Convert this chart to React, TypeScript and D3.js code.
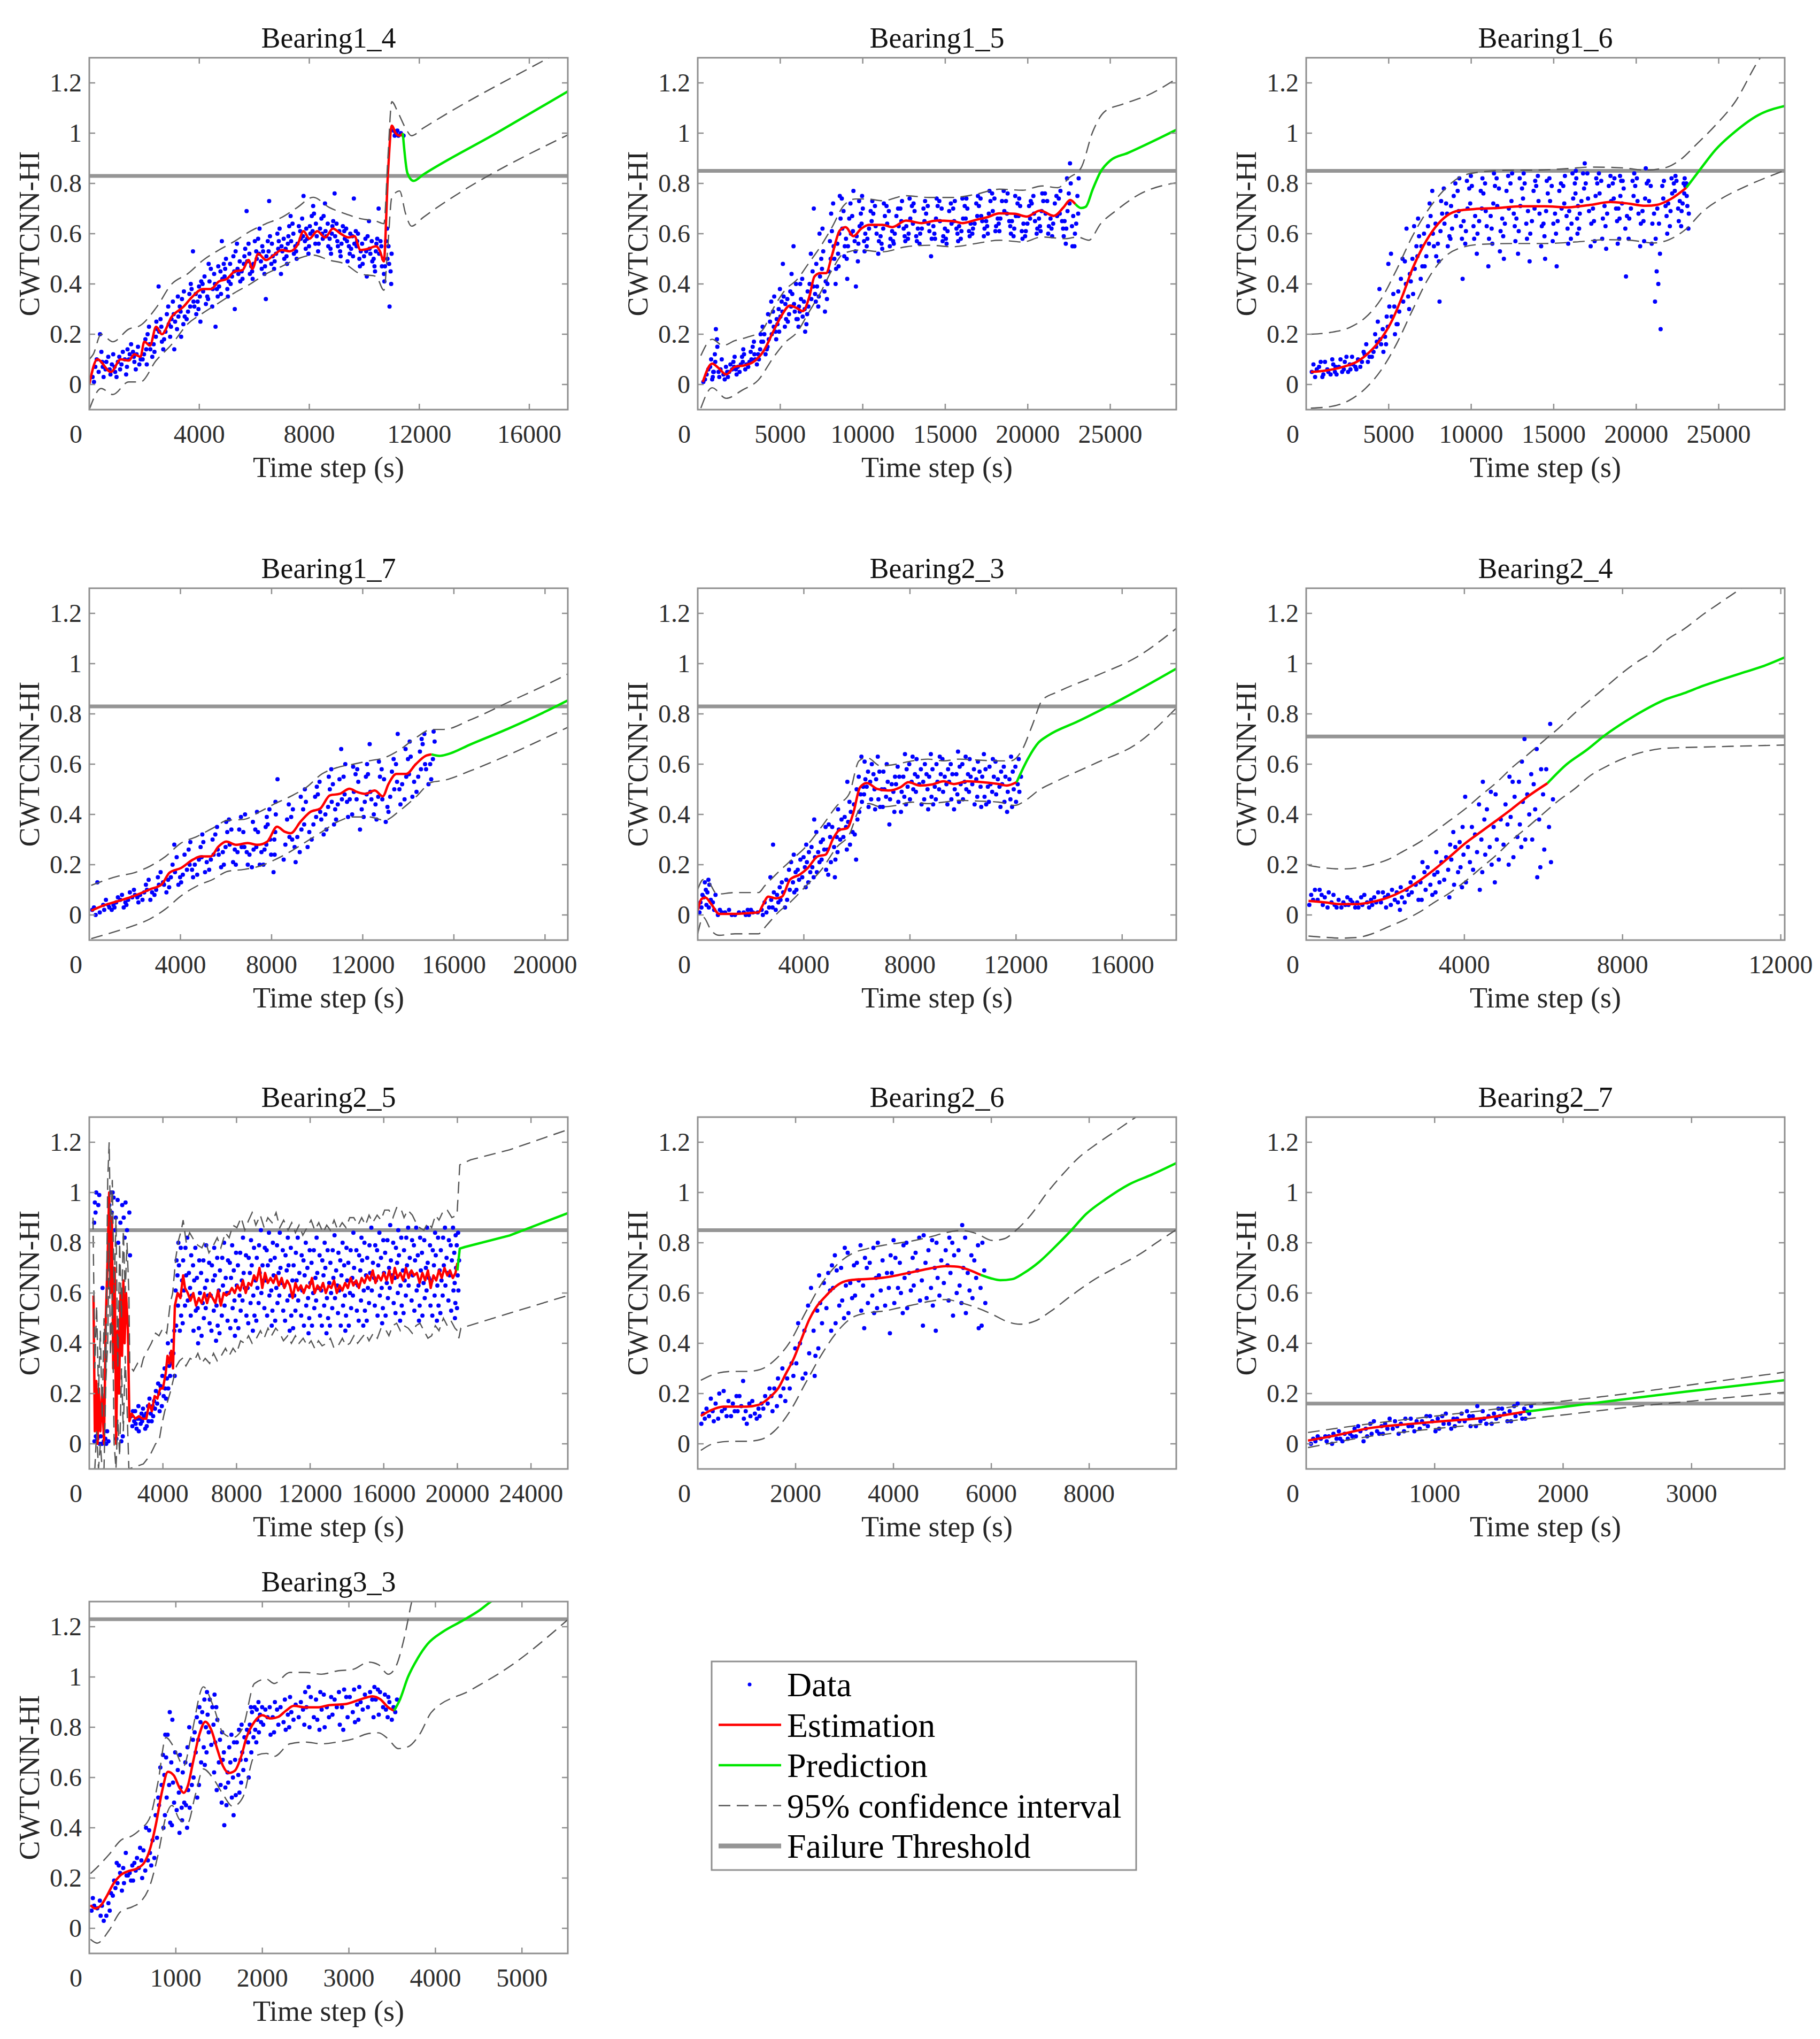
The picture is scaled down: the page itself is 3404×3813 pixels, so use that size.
import React, { useEffect, useRef } from 'react';
import * as d3 from 'd3';

type Pt = [number, number];

const W = 3404;
const H = 3813;
const COL_LEFT = [167, 1305, 2443];
const ROW_TOP = [108, 1100, 2089, 2995];
const PW = 895;
const PH = 658;
const Y_DOMAIN: [number, number] = [-0.1, 1.3];
const Y_TICKS = [0, 0.2, 0.4, 0.6, 0.8, 1, 1.2];
const FONT = "'Liberation Serif', 'Times New Roman', 'DejaVu Serif', serif";
// placement of the readings inside one time bin
const SPREAD = [0.1, 0.6, 0.35, 0.85, 0.2, 0.7, 0.45, 0.95];

const TITLES = ['Bearing1_4', 'Bearing1_5', 'Bearing1_6', 'Bearing1_7', 'Bearing2_3', 'Bearing2_4', 'Bearing2_5', 'Bearing2_6', 'Bearing2_7', 'Bearing3_3'];
const X_MAX = [17400, 29000, 29000, 21000, 18040, 12100, 26000, 9780, 3725, 5530];
const X_TICKS = [
    [4000, 8000, 12000, 16000],
    [5000, 10000, 15000, 20000, 25000],
    [5000, 10000, 15000, 20000, 25000],
    [4000, 8000, 12000, 16000, 20000],
    [4000, 8000, 12000, 16000],
    [4000, 8000, 12000],
    [4000, 8000, 12000, 16000, 20000, 24000],
    [2000, 4000, 6000, 8000],
    [1000, 2000, 3000],
    [1000, 2000, 3000, 4000, 5000],
];
const THRESHOLDS = [0.83, 0.85, 0.85, 0.83, 0.83, 0.71, 0.85, 0.85, 0.16, 1.23];

// ---------- Bearing1_4 ----------
// scatter: [bin start (s), HI readings in percent...]
const b14Pts = [
    [100, 3, 7, 1, 10], [300, 9, 5, 13, 20, 7], [500, 6, 11, 3, 9], [700, 8, 4, 12, 6], [900, 5, 9, 3, 11, 7],
    [1100, 10, 6, 13, 8], [1300, 7, 12, 4, 10, 14], [1500, 9, 13, 6, 16, 11], [1700, 12, 8, 15, 10], [1900, 14, 10, 18, 12, 8],
    [2100, 16, 11, 20, 14, 23], [2300, 19, 13, 22, 16, 25], [2500, 21, 17, 26, 14, 39, 23], [2700, 24, 18, 28, 21, 31], [2900, 23, 28, 19, 33, 26, 14],
    [3100, 27, 22, 31, 25, 35], [3300, 29, 24, 34, 27, 19, 37], [3500, 31, 26, 36, 29, 40], [3700, 33, 28, 38, 31, 53, 36], [3900, 35, 30, 41, 33, 25, 39],
    [4100, 37, 32, 43, 35, 40], [4300, 38, 34, 46, 41, 31, 48], [4500, 40, 35, 44, 38, 23, 47], [4700, 42, 36, 48, 39, 57, 45], [4900, 43, 38, 50, 41, 46, 35],
    [5100, 45, 40, 51, 43, 30, 48], [5300, 46, 41, 53, 44, 56, 49], [5500, 48, 42, 54, 45, 51], [5700, 49, 44, 56, 47, 69, 52], [5900, 50, 45, 57, 48, 53, 42],
    [6100, 52, 46, 58, 49, 62, 55], [6300, 51, 47, 57, 53, 34, 44], [6500, 53, 48, 59, 51, 73, 56], [6700, 54, 49, 60, 52, 57, 46], [6900, 55, 50, 62, 53, 44, 58],
    [7100, 56, 51, 63, 54, 59, 48], [7300, 57, 52, 64, 55, 67, 60], [7500, 58, 53, 63, 56, 61, 50], [7700, 59, 54, 66, 57, 75, 62], [7900, 60, 55, 67, 58, 63, 52],
    [8100, 61, 56, 68, 59, 71, 64], [8300, 60, 56, 66, 62, 58, 53], [8500, 61, 55, 67, 59, 72, 64], [8700, 60, 54, 65, 58, 63, 52], [8900, 59, 55, 64, 61, 76, 57],
    [9100, 58, 53, 63, 56, 61, 51], [9300, 57, 52, 62, 55, 49, 60], [9500, 56, 51, 61, 54, 74, 59], [9700, 55, 50, 60, 53, 57, 47], [9900, 53, 48, 58, 51, 43, 56],
    [10100, 54, 49, 59, 52, 65, 57], [10300, 53, 47, 58, 50, 56, 45], [10500, 52, 47, 57, 50, 70, 55], [10700, 50, 44, 57, 47, 62, 41], [10850, 48, 40, 55, 45, 31, 52],
    [11000, 99, 101, 100], [11150, 100, 99, 101], [11300, 99, 100],
];
const b14Est: Pt[] = [
    [0, 0.0], [290, 0.10], [790, 0.05], [1140, 0.10], [1430, 0.095], [1640, 0.12], [1860, 0.11], [2000, 0.17], [2210, 0.155],
    [2430, 0.23], [2640, 0.2], [3000, 0.27], [3430, 0.31], [3710, 0.345], [4140, 0.38], [4430, 0.38], [4710, 0.41], [5000, 0.42],
    [5290, 0.45], [5570, 0.455], [5790, 0.495], [5930, 0.46], [6140, 0.52], [6430, 0.495], [6710, 0.515], [7000, 0.535], [7290, 0.53],
    [7570, 0.555], [7790, 0.61], [8000, 0.58], [8290, 0.61], [8570, 0.585], [8860, 0.62], [9140, 0.6], [9430, 0.585], [9640, 0.59],
    [9860, 0.535], [10140, 0.54], [10430, 0.55], [10570, 0.53], [10710, 0.49], [10860, 0.84], [11000, 1.03], [11140, 1.0], [11290, 0.99], [11400, 1.0],
];
const b14Pred: Pt[] = [[11400, 1.0], [11570, 0.84], [11790, 0.81], [12140, 0.835], [14800, 1.0], [17400, 1.166]];
const b14Up: Pt[] = [
    [0, 0.1], [143, 0.12], [429, 0.2], [857, 0.17], [1429, 0.22], [1857, 0.235], [2429, 0.305], [3000, 0.4], [3571, 0.44], [4143, 0.495],
    [4714, 0.535], [5286, 0.57], [5857, 0.61], [6429, 0.64], [7000, 0.665], [7571, 0.705], [8143, 0.745], [8714, 0.705], [9286, 0.68],
    [9857, 0.66], [10429, 0.65], [10714, 0.64], [10857, 0.9], [11000, 1.125], [11214, 1.085], [11500, 1.02], [11714, 0.99], [12143, 1.02], [16714, 1.3], [17400, 1.34],
];
const b14Lo: Pt[] = [
    [0, -0.1], [429, -0.016], [857, -0.04], [1429, 0.01], [1857, 0.01], [2429, 0.095], [3000, 0.16], [3571, 0.24], [4143, 0.285],
    [4714, 0.325], [5286, 0.365], [5857, 0.4], [6429, 0.44], [7000, 0.47], [7571, 0.5], [8143, 0.515], [8714, 0.495], [9286, 0.48],
    [9857, 0.44], [10429, 0.43], [10714, 0.375], [10857, 0.55], [11000, 0.745], [11286, 0.77], [11500, 0.68], [11714, 0.63], [12143, 0.665], [17400, 0.993],
];

// ---------- Bearing1_5 ----------
const b15Pts = [
    [300, 1, 4, 2, 6], [700, 3, 7, 2, 10, 5], [950, 9, 15, 5, 22, 12, 18], [1200, 6, 3, 10, 5], [1500, 4, 7, 2, 5], [1800, 6, 3, 8, 5],
    [2100, 7, 4, 9, 6, 11], [2400, 8, 5, 11, 7], [2700, 9, 6, 12, 8, 14], [3000, 10, 7, 13, 9], [3300, 12, 8, 15, 10, 17], [3600, 14, 10, 17, 12, 20],
    [3900, 17, 12, 20, 14, 23], [4200, 20, 15, 25, 18, 33, 28], [4500, 23, 18, 29, 21, 35, 26], [4800, 27, 21, 33, 24, 38, 30], [5100, 29, 23, 35, 26, 48, 32],
    [5400, 31, 25, 37, 28, 44, 34], [5700, 32, 26, 36, 29, 55, 40], [6000, 29, 23, 34, 26, 40, 31], [6300, 27, 21, 33, 24, 42, 30], [6600, 34, 28, 40, 31, 52, 37],
    [6900, 39, 33, 45, 36, 70, 48], [7200, 43, 35, 50, 39, 60, 31], [7500, 46, 37, 53, 41, 62, 29], [7800, 50, 40, 57, 45, 68, 34], [8100, 55, 46, 61, 50, 72, 40],
    [8400, 60, 52, 66, 56, 75, 47], [8700, 62, 55, 69, 58, 74, 51], [9000, 60, 50, 66, 55, 72, 42], [9300, 61, 53, 67, 57, 77, 39], [9600, 63, 56, 68, 59, 73, 49],
    [9900, 64, 57, 70, 60, 75, 53], [10200, 65, 58, 69, 62, 73, 55], [10600, 63, 57, 68, 60, 71, 52], [11000, 62, 56, 67, 59, 72, 54], [11400, 64, 58, 69, 61, 71, 55],
    [11800, 63, 57, 67, 60, 70, 56], [12200, 65, 59, 70, 62, 73, 57], [12600, 66, 60, 71, 63, 74, 58], [13000, 64, 59, 69, 62, 72, 57], [13400, 65, 60, 70, 62, 73, 56],
    [13800, 64, 58, 68, 61, 71, 51], [14200, 66, 60, 71, 63, 74, 58], [14600, 65, 59, 70, 62, 73, 57], [15000, 64, 58, 69, 61, 72, 56], [15400, 65, 60, 70, 62, 73, 57],
    [15800, 66, 61, 71, 63, 74, 58], [16200, 66, 61, 70, 64, 74, 59], [16600, 67, 62, 72, 64, 75, 60], [17000, 67, 62, 71, 65, 74, 59], [17400, 68, 63, 73, 65, 77, 60],
    [17800, 69, 63, 74, 66, 76, 61], [18200, 69, 64, 73, 66, 77, 61], [18600, 68, 63, 73, 65, 76, 60], [19000, 67, 62, 72, 65, 75, 59], [19400, 67, 61, 71, 64, 74, 58],
    [19800, 66, 61, 71, 64, 73, 59], [20200, 68, 62, 72, 65, 75, 60], [20600, 69, 63, 73, 66, 76, 61], [21000, 68, 63, 73, 66, 76, 60], [21400, 67, 62, 72, 64, 75, 59],
    [21800, 68, 62, 74, 65, 77, 59], [22200, 69, 62, 76, 65, 82, 56], [22500, 72, 63, 80, 67, 88, 55], [22800, 68, 60, 75, 64, 82, 55],
];
const b15Est: Pt[] = [
    [307, 0.01], [873, 0.083], [1250, 0.066], [1722, 0.04], [2240, 0.07], [2830, 0.076], [3420, 0.092], [4010, 0.135], [4600, 0.214],
    [5070, 0.273], [5590, 0.314], [5970, 0.305], [6370, 0.292], [6770, 0.351], [7075, 0.43], [7430, 0.443], [7780, 0.443], [8140, 0.515],
    [8610, 0.613], [8960, 0.626], [9430, 0.59], [9910, 0.62], [10380, 0.635], [11200, 0.635], [11790, 0.626], [12620, 0.652], [13560, 0.642],
    [14500, 0.652], [15450, 0.65], [16040, 0.642], [16860, 0.655], [17570, 0.666], [18280, 0.681], [19220, 0.679], [19930, 0.668],
    [20750, 0.692], [21580, 0.671], [22170, 0.705], [22570, 0.734], [22880, 0.718],
];
const b15Pred: Pt[] = [[22880, 0.718], [23230, 0.702], [23510, 0.707], [23940, 0.777], [24410, 0.846], [25000, 0.891], [26060, 0.921], [29000, 1.013]];
const b15Up: Pt[] = [
    [190, 0.115], [873, 0.18], [1530, 0.155], [2240, 0.174], [2950, 0.187], [3890, 0.214], [4600, 0.305], [5310, 0.377], [6010, 0.417],
    [6720, 0.482], [7430, 0.548], [8140, 0.626], [8840, 0.711], [9550, 0.738], [10260, 0.738], [11200, 0.731], [12620, 0.751], [14030, 0.744],
    [15450, 0.744], [16860, 0.757], [18280, 0.777], [19690, 0.773], [20870, 0.79], [21820, 0.783], [22520, 0.823], [23230, 0.862],
    [23940, 1.006], [24650, 1.085], [25830, 1.117], [27240, 1.15], [29000, 1.216],
];
const b15Lo: Pt[] = [
    [190, -0.094], [873, -0.013], [1722, -0.055], [2710, -0.022], [3660, 0.017], [4600, 0.109], [5310, 0.168], [6010, 0.207], [6720, 0.286],
    [7430, 0.364], [8140, 0.456], [8840, 0.521], [9790, 0.535], [11200, 0.528], [12620, 0.548], [14030, 0.554], [15450, 0.548], [16860, 0.561],
    [18280, 0.574], [19690, 0.567], [20870, 0.587], [22290, 0.58], [23000, 0.587], [23700, 0.574], [24410, 0.639], [25350, 0.692],
    [26770, 0.757], [29000, 0.803],
];

// ---------- Bearing1_6 ----------
const b16Pts = [
    [300, 5, 3, 8, 6], [700, 4, 7, 3, 9], [1100, 6, 4, 9, 5], [1500, 5, 8, 4, 10, 7], [1900, 7, 5, 10, 6], [2300, 6, 9, 5, 11, 8],
    [2700, 8, 6, 11, 7], [3100, 9, 7, 13, 10], [3500, 12, 9, 16, 11], [3900, 15, 11, 20, 13, 17], [4300, 18, 13, 25, 16, 38, 22],
    [4700, 23, 16, 31, 19, 48, 27], [5100, 27, 20, 36, 24, 52, 31], [5500, 33, 24, 42, 29, 50, 37], [5900, 40, 30, 49, 35, 62, 44],
    [6300, 46, 36, 55, 41, 63, 50], [6700, 51, 42, 59, 47, 66, 55], [7100, 56, 47, 63, 51, 72, 60], [7500, 60, 51, 67, 55, 77, 64],
    [7900, 61, 49, 68, 56, 73, 33], [8300, 64, 55, 72, 59, 78, 68], [8700, 67, 58, 75, 62, 80, 71], [9100, 69, 58, 77, 63, 82, 42],
    [9500, 70, 61, 78, 65, 81, 56], [9900, 72, 63, 79, 67, 83, 58], [10300, 70, 60, 77, 65, 82, 52], [10700, 69, 58, 76, 63, 80, 47],
    [11100, 72, 62, 79, 67, 84, 56], [11500, 71, 61, 78, 66, 82, 53], [11900, 70, 59, 77, 64, 83, 50], [12300, 73, 63, 80, 68, 84, 57],
    [12700, 71, 61, 78, 66, 82, 52], [13100, 74, 64, 80, 69, 84, 58], [13500, 70, 60, 77, 65, 81, 49], [13900, 73, 63, 79, 68, 83, 55],
    [14300, 69, 59, 76, 64, 81, 50], [14700, 73, 64, 79, 68, 82, 57], [15100, 70, 60, 77, 65, 80, 47], [15500, 72, 62, 79, 67, 83, 56],
    [15900, 74, 64, 80, 69, 84, 58], [16300, 76, 66, 82, 71, 85, 60], [16500, 78, 68, 84, 73, 88, 62], [16900, 74, 64, 80, 69, 84, 55],
    [17300, 75, 65, 80, 70, 82, 57], [17700, 76, 66, 81, 71, 84, 58], [18100, 73, 63, 79, 68, 83, 54], [18500, 74, 65, 80, 70, 82, 56],
    [18900, 75, 66, 81, 70, 83, 58], [19100, 72, 62, 78, 67, 81, 43], [19500, 75, 66, 81, 70, 84, 58], [19900, 73, 64, 79, 68, 82, 55],
    [20300, 74, 65, 80, 69, 86, 57], [20700, 73, 64, 79, 68, 81, 56], [21100, 22, 33, 40, 45, 52, 58, 64, 70], [21500, 74, 67, 79, 71, 81, 60],
    [21900, 76, 69, 80, 72, 82, 63], [22300, 77, 70, 81, 73, 83, 65], [22700, 76, 69, 80, 72, 82, 63], [22950, 75, 68, 79, 71, 80, 62],
];
const b16Est: Pt[] = [
    [283, 0.05], [1226, 0.056], [2170, 0.069], [3113, 0.092], [3820, 0.128], [4530, 0.181], [5236, 0.259], [5825, 0.351], [6415, 0.456],
    [7123, 0.554], [7830, 0.626], [8538, 0.672], [9245, 0.692], [10190, 0.698], [11600, 0.702], [13020, 0.709], [14430, 0.709],
    [15850, 0.705], [17260, 0.715], [18440, 0.726], [19390, 0.721], [20570, 0.711], [21270, 0.715], [22100, 0.738], [23040, 0.783],
];
const b16Pred: Pt[] = [[23040, 0.783], [23870, 0.855], [24810, 0.934], [25990, 1.006], [27400, 1.072], [29000, 1.108]];
const b16Up: Pt[] = [
    [283, 0.2], [1462, 0.207], [2640, 0.227], [3585, 0.266], [4530, 0.339], [5472, 0.456], [6415, 0.587], [7360, 0.692], [8300, 0.77],
    [9245, 0.823], [10190, 0.842], [12080, 0.852], [13960, 0.853], [15850, 0.859], [17260, 0.865], [19150, 0.862], [20570, 0.853],
    [21750, 0.862], [22690, 0.895], [23630, 0.954], [24810, 1.032], [25990, 1.124], [27400, 1.288], [28200, 1.36],
];
const b16Lo: Pt[] = [
    [283, -0.094], [1462, -0.088], [2640, -0.062], [3585, -0.016], [4530, 0.056], [5472, 0.161], [6415, 0.292], [7360, 0.417], [8300, 0.502],
    [9245, 0.541], [10660, 0.558], [12550, 0.561], [14430, 0.561], [16320, 0.567], [18210, 0.576], [19620, 0.574], [21040, 0.563],
    [21980, 0.576], [22920, 0.613], [24100, 0.692], [25280, 0.744], [26700, 0.79], [29000, 0.852],
];

// ---------- Bearing1_7 ----------
const b17Pts = [
    [100, 2, 0, 3, 13], [400, 2, 1, 4], [700, 4, 2, 6, 3], [1000, 5, 3, 7, 4], [1300, 6, 3, 8, 5], [1600, 7, 4, 9, 6],
    [1900, 8, 5, 10, 7], [2200, 9, 6, 12, 8], [2500, 10, 6, 14, 9], [2800, 12, 8, 15, 10], [3100, 13, 9, 17, 12], [3400, 15, 11, 20, 14],
    [3700, 17, 12, 23, 15, 28], [4000, 18, 13, 24, 16], [4300, 20, 15, 26, 18, 29], [4600, 22, 16, 27, 20], [4900, 23, 17, 29, 21, 32],
    [5200, 24, 18, 30, 22], [5500, 26, 19, 32, 24, 35], [5800, 27, 20, 33, 25, 37], [6100, 28, 21, 34, 26, 38], [6400, 27, 20, 34, 25, 39],
    [6700, 27, 20, 33, 25, 40], [7000, 26, 19, 34, 24, 37], [7300, 27, 20, 33, 25, 41], [7600, 28, 20, 35, 26, 39], [7800, 30, 17, 36, 24, 42],
    [8100, 33, 24, 40, 30, 45], [8200, 54], [8500, 31, 22, 38, 28, 44], [8800, 30, 21, 39, 27, 42], [9100, 34, 25, 42, 31, 47],
    [9400, 36, 27, 45, 33, 50], [9700, 39, 30, 47, 36, 51], [10000, 41, 32, 48, 38, 53], [10300, 43, 34, 50, 40, 55], [10600, 45, 36, 52, 42, 58],
    [10800, 46, 38, 54, 44, 66], [11100, 48, 39, 55, 45, 60], [11400, 49, 40, 56, 46, 59], [11700, 46, 34, 53, 42, 58], [12000, 48, 39, 55, 45, 60],
    [12200, 49, 40, 56, 46, 68], [12500, 47, 38, 55, 44, 61], [12800, 46, 37, 54, 43, 58], [13100, 50, 41, 57, 47, 62], [13400, 53, 44, 60, 50, 72],
    [13700, 55, 46, 62, 52, 66], [14000, 56, 47, 63, 53, 69], [14300, 58, 49, 65, 55, 70], [14600, 60, 52, 68, 58, 72], [14900, 62, 54, 69, 60, 73],
];
const b17Est: Pt[] = [
    [86, 0.017], [600, 0.037], [1290, 0.056], [1970, 0.076], [2660, 0.102], [3180, 0.122], [3520, 0.168], [4030, 0.187], [4550, 0.22],
    [4890, 0.233], [5320, 0.233], [5670, 0.272], [6010, 0.292], [6440, 0.279], [6950, 0.286], [7380, 0.279], [7810, 0.292], [8240, 0.351],
    [8580, 0.331], [8840, 0.325], [9270, 0.371], [9700, 0.41], [10130, 0.423], [10560, 0.476], [10990, 0.482], [11420, 0.502], [11760, 0.489],
    [12100, 0.482], [12530, 0.495], [12880, 0.472], [13130, 0.521], [13480, 0.561], [13910, 0.561], [14330, 0.6], [14760, 0.633], [15020, 0.639],
];
const b17Pred: Pt[] = [[15020, 0.639], [15360, 0.633], [15710, 0.639], [16740, 0.679], [18450, 0.744], [20170, 0.816], [21030, 0.855]];
const b17Up: Pt[] = [
    [86, 0.118], [1290, 0.155], [1970, 0.168], [2660, 0.194], [3350, 0.233], [4030, 0.286], [4720, 0.312], [5410, 0.345], [6090, 0.377],
    [6780, 0.38], [7470, 0.41], [8150, 0.443], [8840, 0.472], [9530, 0.508], [10210, 0.561], [10900, 0.587], [11590, 0.6], [12270, 0.613],
    [12960, 0.626], [13650, 0.659], [14330, 0.705], [15020, 0.738], [15540, 0.738], [16740, 0.777], [18450, 0.849], [20170, 0.921], [21030, 0.96],
];
const b17Lo: Pt[] = [
    [86, -0.094], [1290, -0.062], [1970, -0.042], [2660, -0.016], [3350, 0.024], [4030, 0.076], [4720, 0.115], [5410, 0.141], [6090, 0.174],
    [6780, 0.181], [7470, 0.194], [8150, 0.22], [8840, 0.253], [9530, 0.292], [10210, 0.331], [10900, 0.371], [11590, 0.39], [12270, 0.39],
    [12960, 0.377], [13650, 0.417], [14330, 0.469], [15020, 0.528], [15540, 0.535], [16740, 0.574], [18450, 0.639], [20170, 0.711], [21030, 0.748],
];

// ---------- Bearing2_3 ----------
const b23Pts = [
    [50, 1, 3, 5, 8], [200, 4, 7, 10, 13], [350, 3, 6, 9, 12, 14], [500, 2, 5, 8], [700, 0, 1, 2], [1000, 0, 1, 2], [1300, 0, 1],
    [1600, 0, 1, 2], [1900, 0, 1, 2], [2200, 0, 1, 2], [2500, 1, 3, 5], [2700, 3, 6, 9, 15, 28], [2900, 2, 5, 8, 11], [3100, 3, 6, 9, 13],
    [3300, 6, 10, 14, 18], [3500, 9, 13, 17, 21, 24], [3700, 10, 14, 18, 22], [3900, 11, 15, 19, 23, 28], [4100, 13, 17, 21, 25],
    [4250, 15, 19, 23, 27, 38], [4450, 17, 21, 25, 29, 33], [4650, 18, 22, 26, 30, 35], [4850, 16, 21, 26, 31, 36], [5050, 22, 27, 31, 35, 15],
    [5250, 25, 30, 34, 38, 42], [5450, 26, 31, 35, 39, 53], [5650, 28, 33, 37, 41, 45], [5850, 22, 32, 38, 44, 50],
    [6050, 41, 45, 48, 51, 55, 63], [6250, 43, 48, 51, 54, 57, 61], [6450, 46, 50, 53, 56, 60, 42], [6700, 43, 46, 50, 54, 57, 63],
    [6950, 43, 47, 50, 53, 57, 60], [7200, 41, 46, 49, 52, 55, 36], [7450, 45, 49, 52, 55, 59, 41], [7700, 44, 47, 51, 55, 58, 64],
    [7950, 46, 50, 53, 56, 60, 63], [8200, 44, 49, 52, 55, 58, 62], [8450, 46, 50, 53, 56, 60, 42], [8700, 44, 47, 51, 55, 58, 64],
    [8950, 46, 50, 53, 56, 60, 63], [9200, 44, 49, 52, 55, 58, 62], [9450, 46, 50, 53, 56, 60, 42], [9700, 45, 48, 52, 56, 59, 65],
    [9950, 46, 50, 53, 56, 60, 63], [10200, 44, 49, 52, 55, 58, 62], [10450, 47, 51, 54, 57, 61, 43], [10700, 44, 47, 51, 55, 58, 64],
    [10950, 45, 49, 52, 55, 59, 62], [11200, 43, 48, 51, 54, 57, 61], [11450, 45, 49, 52, 55, 59, 41], [11700, 43, 46, 50, 54, 57, 63],
    [11950, 45, 49, 52, 55, 59, 62],
];
const b23Est: Pt[] = [
    [0, 0.017], [140, 0.063], [290, 0.069], [510, 0.043], [810, 0.004], [1250, 0.004], [1850, 0.007], [2290, 0.01], [2440, 0.037],
    [2660, 0.073], [2960, 0.066], [3180, 0.073], [3480, 0.141], [3850, 0.161], [4150, 0.187], [4520, 0.233], [4820, 0.24], [5110, 0.305],
    [5340, 0.338], [5630, 0.345], [5860, 0.404], [6120, 0.508], [6380, 0.525], [6750, 0.502], [7190, 0.495], [7640, 0.508], [7940, 0.528],
    [8380, 0.515], [8830, 0.519], [9270, 0.532], [9650, 0.521], [10170, 0.532], [10760, 0.528], [11350, 0.521], [11650, 0.515], [12020, 0.528],
];
const b23Pred: Pt[] = [[12020, 0.528], [12470, 0.626], [12840, 0.685], [13210, 0.714], [14330, 0.77], [15810, 0.849], [18040, 0.98]];
const b23Up: Pt[] = [
    [0, 0.102], [210, 0.141], [430, 0.128], [730, 0.083], [1400, 0.089], [2290, 0.089], [2520, 0.115], [2890, 0.155], [3480, 0.214],
    [4080, 0.272], [4670, 0.351], [5260, 0.436], [5710, 0.482], [6080, 0.613], [6380, 0.626], [6900, 0.593], [7490, 0.6], [8090, 0.613],
    [8680, 0.62], [9270, 0.613], [9860, 0.62], [10610, 0.616], [11350, 0.613], [11800, 0.613], [12240, 0.659], [12620, 0.757], [12990, 0.855],
    [13580, 0.888], [15070, 0.954], [16550, 1.026], [18040, 1.14],
];
const b23Lo: Pt[] = [
    [0, -0.075], [210, -0.009], [510, -0.062], [810, -0.081], [1400, -0.075], [2290, -0.075], [2590, -0.042], [3030, 0.01], [3480, 0.05],
    [4080, 0.115], [4670, 0.181], [5260, 0.272], [5710, 0.319], [6080, 0.417], [6450, 0.443], [6900, 0.43], [7490, 0.436], [8090, 0.449],
    [8680, 0.443], [9270, 0.449], [9860, 0.456], [10610, 0.453], [11350, 0.449], [11950, 0.436], [12400, 0.459], [12840, 0.495],
    [13580, 0.535], [15070, 0.607], [16550, 0.681], [18040, 0.823],
];

// ---------- Bearing2_4 ----------
const b24Pts = [
    [60, 4, 6, 8, 10], [250, 4, 6, 8, 10], [450, 3, 5, 7, 9], [650, 3, 4, 6, 8], [850, 3, 4, 5, 7], [1050, 3, 4, 5, 6], [1250, 3, 4, 5, 7],
    [1450, 3, 5, 6, 8], [1650, 4, 5, 7, 9], [1850, 3, 5, 7, 9], [2050, 4, 6, 8, 10], [2250, 2, 5, 7, 9, 11], [2450, 5, 8, 10, 13],
    [2650, 6, 9, 12, 15], [2850, 6, 10, 13, 17, 21], [3050, 8, 12, 16, 19], [3250, 9, 13, 17, 21, 25], [3450, 7, 14, 18, 23, 28],
    [3650, 12, 17, 22, 27, 33], [3850, 11, 19, 24, 29, 35], [4000, 13, 21, 27, 35, 47], [4200, 10, 18, 25, 32, 44], [4400, 17, 24, 30, 38, 53],
    [4550, 20, 27, 35, 42, 49], [4750, 13, 22, 30, 38, 48], [4950, 20, 28, 36, 44, 55], [5150, 23, 31, 39, 47, 53], [5350, 27, 36, 45, 53, 61],
    [5500, 30, 40, 48, 56, 70], [5700, 15, 30, 42, 52, 66], [5850, 19, 26, 38, 48, 58], [6050, 21, 35, 46, 58, 76],
];
const b24Est: Pt[] = [
    [59, 0.056], [483, 0.05], [877, 0.043], [1271, 0.043], [1665, 0.052], [2060, 0.069], [2450, 0.096], [2850, 0.135], [3240, 0.181],
    [3640, 0.233], [4030, 0.286], [4420, 0.331], [4820, 0.377], [5210, 0.423], [5610, 0.472], [6100, 0.524],
];
const b24Pred: Pt[] = [
    [6100, 0.524], [6590, 0.6], [7080, 0.655], [7580, 0.718], [8070, 0.77], [8560, 0.816], [9050, 0.855], [9550, 0.882], [10040, 0.912],
    [10530, 0.938], [11020, 0.963], [11520, 0.988], [12100, 1.025],
];
const b24Up: Pt[] = [
    [59, 0.197], [483, 0.187], [877, 0.183], [1271, 0.187], [1665, 0.2], [2060, 0.22], [2450, 0.253], [2850, 0.288], [3240, 0.331],
    [3640, 0.377], [4030, 0.423], [4420, 0.476], [4820, 0.528], [5210, 0.587], [5610, 0.639], [6000, 0.692], [6390, 0.744], [6790, 0.803],
    [7180, 0.855], [7580, 0.908], [7970, 0.96], [8360, 1.006], [8760, 1.045], [9150, 1.098], [9550, 1.137], [10040, 1.196], [10530, 1.249], [10980, 1.297], [11500, 1.35],
];
const b24Lo: Pt[] = [
    [59, -0.084], [483, -0.089], [877, -0.092], [1271, -0.09], [1665, -0.075], [2060, -0.048], [2450, -0.022], [2850, 0.01], [3240, 0.05],
    [3640, 0.089], [4030, 0.135], [4420, 0.187], [4820, 0.24], [5210, 0.299], [5610, 0.351], [6000, 0.404], [6390, 0.456], [6790, 0.502],
    [7180, 0.554], [7580, 0.59], [8070, 0.626], [8560, 0.65], [9050, 0.663], [10040, 0.668], [11020, 0.672], [12100, 0.676],
];

// ---------- Bearing2_5 ----------
const b25Pts = [
    [250, 88, 92, 96, 100, 1, 3], [400, 0, 2, 99, 95], [600, 0, 1, 3, 62], [800, 0, 2, 5], [1000, 1, 90, 95, 100], [1200, 85, 92, 98, 100],
    [1400, 2, 80, 90, 97], [1600, 1, 88, 95], [1800, 3, 82, 90, 96], [2000, 75, 85, 92], [2250, 7, 9, 11, 13], [2450, 6, 8, 10, 13],
    [2650, 5, 8, 10, 12, 15], [2850, 6, 9, 11, 14], [3050, 7, 9, 12, 15], [3250, 9, 12, 15, 18], [3450, 11, 14, 17, 21], [3650, 13, 16, 20, 24],
    [3850, 15, 19, 23, 27], [4050, 18, 22, 26, 30], [4250, 22, 27, 31, 36, 40], [4450, 27, 32, 36, 41, 45],
    [4650, 47, 55, 61, 67, 73, 80], [4850, 51, 59, 65, 71, 78, 45], [5050, 48, 55, 61, 67, 73, 78], [5300, 51, 57, 62, 68, 75, 82],
    [5550, 45, 53, 59, 65, 71, 78], [5800, 46, 54, 60, 66, 73, 40], [6050, 43, 50, 56, 62, 68, 73], [6300, 48, 54, 59, 65, 72, 79],
    [6550, 45, 53, 59, 65, 71, 78], [6800, 47, 55, 61, 67, 74, 41], [7050, 44, 51, 57, 63, 69, 74], [7300, 49, 55, 60, 66, 73, 80],
    [7550, 46, 54, 60, 66, 72, 79], [7800, 49, 57, 63, 69, 76, 43], [8050, 46, 53, 59, 65, 71, 76], [8300, 51, 57, 62, 68, 75, 82],
    [8550, 48, 56, 62, 68, 74, 81], [8800, 51, 59, 65, 71, 78, 45], [9050, 49, 56, 62, 68, 74, 79], [9300, 54, 60, 65, 71, 78, 85],
    [9550, 51, 59, 65, 71, 77, 84], [9800, 53, 61, 67, 73, 80, 47], [10050, 49, 56, 62, 68, 74, 79], [10300, 53, 59, 64, 70, 77, 84],
    [10550, 49, 57, 63, 69, 75, 82], [10800, 51, 59, 65, 71, 78, 45], [11050, 46, 53, 59, 65, 71, 76], [11300, 51, 57, 62, 68, 75, 82],
    [11550, 47, 55, 61, 67, 73, 80], [11800, 50, 58, 64, 70, 77, 44], [12050, 47, 54, 60, 66, 72, 77], [12300, 51, 57, 62, 68, 75, 82],
    [12550, 47, 55, 61, 67, 73, 80], [12800, 50, 58, 64, 70, 77, 44], [13050, 47, 54, 60, 66, 72, 77], [13300, 52, 58, 63, 69, 76, 83],
    [13550, 47, 55, 61, 67, 73, 80], [13800, 51, 59, 65, 71, 78, 45], [14050, 47, 54, 60, 66, 72, 77], [14300, 53, 59, 64, 70, 77, 84],
    [14550, 49, 57, 63, 69, 75, 82], [14800, 53, 61, 67, 73, 80, 47], [15050, 49, 56, 62, 68, 74, 79], [15300, 55, 61, 66, 72, 79, 86],
    [15550, 51, 59, 65, 71, 77, 84], [15800, 54, 62, 68, 74, 81, 48], [16050, 51, 58, 64, 70, 76, 81], [16300, 56, 62, 67, 73, 80, 87],
    [16550, 52, 60, 66, 72, 78, 85], [16800, 55, 63, 69, 75, 82, 49], [17050, 52, 59, 65, 71, 77, 82], [17300, 57, 63, 68, 74, 81, 86],
    [17550, 53, 61, 67, 73, 79, 86], [17800, 55, 63, 69, 75, 82, 49], [18050, 51, 58, 64, 70, 76, 81], [18300, 55, 61, 66, 72, 79, 86],
    [18550, 51, 59, 65, 71, 77, 84], [18800, 55, 63, 69, 75, 82, 49], [19050, 52, 59, 65, 71, 77, 82], [19300, 57, 63, 68, 74, 81, 86],
    [19550, 53, 61, 67, 73, 79, 86], [19800, 56, 64, 70, 76, 83, 50], [19950, 54, 61, 67, 73, 79, 84],
];
const b25Est: Pt[] = [
    [230, 0.59], [300, 0.05], [380, 0.25], [450, 0.0], [520, 0.22], [600, 0.05], [700, 0.2], [800, 0.0], [900, 0.5], [1000, 0.75], [1080, 1.0],
    [1150, 0.6], [1230, 0.9], [1300, 0.3], [1380, 0.7], [1460, 0.0], [1540, 0.45], [1620, 0.2], [1700, 0.6], [1780, 0.35], [1850, 0.65],
    [1920, 0.4], [2000, 0.6], [2100, 0.45], [2180, 0.09], [2300, 0.12], [2500, 0.1], [2700, 0.11], [2900, 0.1], [3100, 0.1], [3250, 0.16],
    [3400, 0.13], [3550, 0.19], [3700, 0.18], [3850, 0.22], [4000, 0.22], [4150, 0.28], [4250, 0.35], [4350, 0.32], [4450, 0.37], [4550, 0.3],
    [4650, 0.55], [4800, 0.6], [4950, 0.58], [5100, 0.67], [5200, 0.62], [5350, 0.6], [5500, 0.57], [5650, 0.6], [5800, 0.55], [5950, 0.58],
    [6100, 0.56], [6250, 0.6], [6400, 0.56], [6550, 0.6], [6700, 0.58], [6850, 0.56], [7000, 0.61], [7150, 0.55], [7300, 0.6], [7450, 0.59],
    [7600, 0.6], [7750, 0.62], [7900, 0.6], [8050, 0.63], [8200, 0.61], [8350, 0.65], [8500, 0.6], [8650, 0.64], [8800, 0.63], [8950, 0.67],
    [9100, 0.65], [9250, 0.7], [9400, 0.62], [9550, 0.68], [9700, 0.64], [9850, 0.66], [10000, 0.64], [10150, 0.67], [10300, 0.63],
    [10450, 0.66], [10600, 0.62], [10750, 0.65], [10900, 0.63], [11050, 0.58], [11200, 0.64], [11350, 0.61], [11500, 0.63], [11650, 0.6],
    [11800, 0.63], [11950, 0.62], [12100, 0.66], [12250, 0.6], [12400, 0.63], [12550, 0.61], [12700, 0.64], [12850, 0.6], [13000, 0.63],
    [13150, 0.62], [13300, 0.65], [13450, 0.6], [13600, 0.63], [13750, 0.61], [13900, 0.64], [14050, 0.62], [14200, 0.66], [14350, 0.63],
    [14500, 0.65], [14650, 0.62], [14800, 0.66], [14950, 0.64], [15100, 0.67], [15250, 0.65], [15400, 0.69], [15550, 0.64], [15700, 0.67],
    [15850, 0.65], [16000, 0.68], [16150, 0.65], [16300, 0.69], [16450, 0.64], [16600, 0.7], [16750, 0.66], [16900, 0.68], [17050, 0.65],
    [17200, 0.7], [17350, 0.66], [17500, 0.69], [17650, 0.67], [17800, 0.68], [17950, 0.64], [18100, 0.68], [18250, 0.65], [18400, 0.69],
    [18550, 0.62], [18700, 0.67], [18850, 0.65], [19000, 0.69], [19150, 0.66], [19300, 0.7], [19450, 0.67], [19600, 0.69], [19750, 0.66],
    [19900, 0.68], [20000, 0.72],
];
const b25Pred: Pt[] = [[20000, 0.69], [20130, 0.777], [20400, 0.783], [22840, 0.829], [26000, 0.918]];
const b25Up: Pt[] = [
    [200, 0.9], [300, 0.3], [400, 0.55], [500, 0.2], [600, 0.45], [700, 0.1], [800, 0.5], [900, 0.3], [1000, 1.05], [1080, 1.2], [1150, 0.85],
    [1250, 1.05], [1350, 0.6], [1450, 0.9], [1550, 0.3], [1650, 0.8], [1750, 0.5], [1850, 0.85], [1950, 0.6], [2050, 0.8], [2150, 0.6],
    [2200, 0.31], [2400, 0.29], [2620, 0.32], [2800, 0.3], [2940, 0.34], [3150, 0.37], [3370, 0.4], [3600, 0.44], [3790, 0.43], [4000, 0.46],
    [4210, 0.44], [4400, 0.56], [4530, 0.6], [4700, 0.74], [4850, 0.81], [5000, 0.85], [5100, 0.89], [5270, 0.8], [5450, 0.84], [5690, 0.81],
    [5900, 0.79], [6120, 0.78], [6300, 0.81], [6500, 0.76], [6750, 0.79], [6950, 0.82], [7150, 0.78], [7390, 0.84], [7600, 0.82], [7800, 0.87],
    [8020, 0.86], [8250, 0.9], [8450, 0.85], [8660, 0.89], [8850, 0.92], [9050, 0.87], [9290, 0.91], [9500, 0.86], [9700, 0.9], [9930, 0.88],
    [10150, 0.92], [10350, 0.86], [10560, 0.89], [10800, 0.85], [11000, 0.88], [11200, 0.84], [11400, 0.87], [11600, 0.83], [11830, 0.86],
    [12050, 0.89], [12250, 0.85], [12470, 0.88], [12700, 0.84], [12900, 0.87], [13100, 0.85], [13300, 0.89], [13500, 0.85], [13740, 0.88],
    [13950, 0.86], [14150, 0.9], [14370, 0.9], [14600, 0.87], [14800, 0.9], [15010, 0.87], [15200, 0.91], [15400, 0.88], [15640, 0.91],
    [15850, 0.89], [16050, 0.93], [16280, 0.93], [16500, 0.9], [16700, 0.94], [16910, 0.94], [17100, 0.9], [17300, 0.93], [17550, 0.91],
    [17750, 0.88], [17950, 0.86], [18180, 0.85], [18400, 0.88], [18600, 0.86], [18810, 0.91], [19000, 0.89], [19250, 0.93], [19450, 0.93],
    [19700, 0.9], [19980, 0.91], [20130, 1.11], [20720, 1.13], [22840, 1.17], [26000, 1.25],
];
const b25Lo: Pt[] = [
    [200, -0.1], [300, -0.1], [400, 0.05], [500, -0.1], [600, 0.0], [700, -0.1], [800, -0.1], [900, 0.25], [1000, 0.4], [1080, 0.8],
    [1150, 0.35], [1250, 0.6], [1350, 0.0], [1450, -0.1], [1550, 0.1], [1650, -0.05], [1750, 0.3], [1850, 0.05], [1950, 0.35], [2050, 0.15],
    [2150, -0.1], [2940, -0.08], [3150, -0.06], [3370, -0.035], [3600, 0.0], [3790, 0.01], [3950, 0.08], [4100, 0.13], [4260, 0.17],
    [4420, 0.21], [4580, 0.26], [4740, 0.31], [4900, 0.33], [5060, 0.34], [5250, 0.31], [5480, 0.34], [5700, 0.33], [5900, 0.36], [6100, 0.32],
    [6300, 0.34], [6540, 0.32], [6750, 0.36], [6950, 0.33], [7170, 0.35], [7400, 0.38], [7600, 0.35], [7810, 0.38], [8000, 0.36], [8220, 0.41],
    [8440, 0.4], [8650, 0.43], [8850, 0.4], [9080, 0.42], [9300, 0.45], [9500, 0.42], [9710, 0.46], [9900, 0.43], [10130, 0.46], [10350, 0.44],
    [10550, 0.41], [10780, 0.43], [10980, 0.4], [11200, 0.43], [11400, 0.4], [11620, 0.42], [11850, 0.39], [12050, 0.41], [12250, 0.38],
    [12450, 0.41], [12650, 0.39], [12890, 0.4], [13100, 0.42], [13300, 0.38], [13520, 0.39], [13750, 0.42], [13950, 0.39], [14160, 0.4],
    [14380, 0.43], [14580, 0.4], [14790, 0.42], [15000, 0.44], [15200, 0.41], [15430, 0.44], [15650, 0.42], [15850, 0.46], [16060, 0.46],
    [16280, 0.43], [16480, 0.47], [16700, 0.48], [16900, 0.45], [17100, 0.47], [17330, 0.46], [17550, 0.44], [17750, 0.47], [17970, 0.48],
    [18180, 0.45], [18400, 0.42], [18600, 0.43], [18800, 0.47], [19000, 0.45], [19240, 0.5], [19450, 0.47], [19650, 0.49], [19870, 0.46],
    [20000, 0.45], [20080, 0.42], [20190, 0.46], [22840, 0.52], [26000, 0.59],
];

// ---------- Bearing2_6 ----------
const b26Pts = [
    [60, 8, 10, 12, 14], [200, 9, 11, 13, 18], [350, 10, 13, 16, 20], [500, 11, 14, 17, 21], [650, 11, 13, 16, 19], [800, 10, 13, 15, 19, 25],
    [950, 8, 11, 13, 16], [1100, 10, 12, 14, 17], [1250, 11, 14, 16, 19], [1400, 13, 16, 19, 22], [1550, 15, 19, 22, 26], [1700, 17, 22, 26, 30],
    [1850, 22, 27, 32, 38], [2000, 26, 32, 40, 48], [2150, 28, 36, 45, 55], [2300, 35, 45, 53, 62, 27], [2450, 38, 48, 56, 64, 67],
    [2600, 45, 54, 61, 68, 71], [2750, 48, 55, 62, 69, 75], [2900, 50, 57, 63, 70, 78], [3050, 52, 58, 64, 71, 76], [3200, 53, 59, 65, 72, 79],
    [3350, 46, 56, 63, 70, 74], [3500, 52, 59, 66, 72, 78], [3650, 54, 61, 67, 73, 80], [3800, 44, 55, 62, 68, 75], [3950, 56, 62, 68, 74, 81],
    [4100, 52, 60, 66, 72, 79], [4250, 54, 61, 68, 74, 80], [4400, 57, 63, 69, 76, 82], [4550, 47, 58, 65, 72, 83], [4700, 55, 62, 70, 77, 81],
    [4850, 45, 59, 66, 73, 80], [5000, 57, 64, 71, 77, 82], [5150, 51, 60, 68, 75, 80], [5300, 56, 63, 70, 77, 87], [5450, 52, 61, 68, 75, 82],
    [5600, 46, 58, 66, 73, 79], [5750, 47, 56, 62, 69, 80],
];
const b26Est: Pt[] = [
    [64, 0.111], [287, 0.135], [526, 0.148], [765, 0.148], [1004, 0.148], [1243, 0.155], [1482, 0.187], [1641, 0.22], [1801, 0.279],
    [1960, 0.338], [2120, 0.417], [2280, 0.495], [2438, 0.548], [2598, 0.584], [2757, 0.616], [2916, 0.639], [3155, 0.652], [3474, 0.656],
    [3793, 0.661], [4112, 0.672], [4430, 0.685], [4749, 0.698], [5068, 0.707], [5307, 0.705], [5546, 0.692], [5785, 0.672],
];
const b26Pred: Pt[] = [
    [5785, 0.672], [5984, 0.659], [6183, 0.651], [6422, 0.655], [6661, 0.679], [6980, 0.724], [7299, 0.783], [7617, 0.846], [7936, 0.914],
    [8334, 0.973], [8813, 1.032], [9291, 1.072], [9780, 1.117],
];
const b26Up: Pt[] = [
    [64, 0.253], [367, 0.279], [685, 0.288], [1004, 0.288], [1283, 0.296], [1562, 0.331], [1880, 0.404], [2199, 0.521], [2518, 0.633],
    [2837, 0.711], [3155, 0.757], [3474, 0.777], [3793, 0.79], [4112, 0.799], [4430, 0.809], [4749, 0.823], [5068, 0.84], [5387, 0.849],
    [5705, 0.836], [6024, 0.809], [6263, 0.816], [6502, 0.849], [6821, 0.914], [7140, 0.999], [7458, 1.072], [7777, 1.137], [8175, 1.196],
    [8574, 1.249], [8932, 1.297], [9300, 1.34],
];
const b26Lo: Pt[] = [
    [64, -0.026], [367, 0.004], [685, 0.01], [1004, 0.01], [1283, 0.017], [1562, 0.05], [1880, 0.128], [2199, 0.24], [2518, 0.351],
    [2837, 0.443], [3155, 0.502], [3474, 0.521], [3793, 0.528], [4112, 0.541], [4430, 0.554], [4749, 0.567], [5068, 0.574], [5387, 0.561],
    [5705, 0.541], [6024, 0.515], [6343, 0.485], [6582, 0.476], [6901, 0.489], [7219, 0.528], [7617, 0.587], [8095, 0.652], [8574, 0.705],
    [9052, 0.757], [9450, 0.81], [9780, 0.852],
];

// ---------- Bearing2_7 ----------
const b27Pts = [
    [30, 0, 1, 2, 3], [100, 1, 2, 3], [170, 0, 2, 3, 4], [240, 1, 2, 4, 5], [310, 2, 3, 4, 6], [380, 1, 3, 5, 7], [450, 3, 4, 6, 8],
    [520, 4, 5, 7, 9], [590, 4, 6, 8, 10], [660, 4, 6, 7, 9], [730, 5, 7, 8, 10], [800, 5, 7, 9, 10], [870, 6, 8, 9, 11], [940, 5, 7, 9, 11],
    [1010, 6, 8, 10, 11], [1080, 6, 8, 10, 12], [1150, 7, 9, 10, 12], [1220, 7, 9, 11, 13], [1290, 7, 9, 11, 15], [1360, 8, 10, 11, 13],
    [1430, 8, 10, 12, 14], [1500, 9, 11, 12, 14], [1570, 9, 11, 13, 15], [1640, 10, 12, 14, 16], [1700, 10, 12, 13, 15],
];
const b27Est: Pt[] = [[14, 0.013], [197, 0.03], [502, 0.063], [808, 0.079], [1113, 0.092], [1418, 0.105], [1708, 0.128]];
const b27Pred: Pt[] = [[1708, 0.128], [2334, 0.168], [2945, 0.207], [3725, 0.253]];
const b27Up: Pt[] = [[14, 0.045], [500, 0.08], [1000, 0.11], [1500, 0.14], [1723, 0.155], [2000, 0.17], [2500, 0.2], [3000, 0.235], [3725, 0.285]];
const b27Lo: Pt[] = [[14, -0.015], [500, 0.03], [1000, 0.06], [1500, 0.085], [1723, 0.1], [2000, 0.115], [2500, 0.145], [3000, 0.17], [3725, 0.205]];

// ---------- Bearing3_3 ----------
const b33Pts = [
    [20, 7, 9, 12], [80, 5, 8, 11], [140, 3, 5, 9], [200, 7, 10, 14], [260, 13, 16, 19, 26], [320, 15, 18, 22, 25], [380, 18, 21, 24, 30],
    [440, 19, 22, 25, 21], [500, 19, 23, 26, 28], [560, 20, 24, 27, 32], [620, 23, 27, 31, 40], [680, 25, 30, 35, 39], [740, 28, 36, 45, 52],
    [800, 40, 49, 57, 64, 69], [860, 45, 52, 61, 68, 77], [900, 42, 57, 66, 77, 86], [950, 41, 50, 58, 70, 83], [1000, 38, 47, 54, 63, 69],
    [1050, 43, 50, 56, 62, 48], [1100, 40, 49, 55, 66, 72], [1150, 48, 57, 65, 75, 80], [1200, 52, 60, 70, 78, 84], [1250, 57, 66, 75, 82, 88],
    [1300, 65, 72, 80, 86, 91], [1350, 70, 78, 85, 91, 94], [1400, 62, 73, 81, 88, 93], [1450, 55, 66, 74, 83, 88], [1500, 50, 57, 67, 75, 78],
    [1550, 41, 49, 56, 62, 70], [1600, 52, 58, 66, 72, 77], [1650, 45, 53, 60, 67, 74], [1700, 54, 61, 67, 74, 79], [1750, 58, 63, 70, 76, 81],
    [1800, 60, 67, 74, 79, 78], [1850, 70, 76, 81, 86, 88], [1900, 74, 79, 83, 88, 87], [1950, 78, 82, 85, 88, 90], [2000, 77, 81, 84, 87, 88],
    [2100, 78, 81, 84, 87, 90], [2200, 79, 82, 85, 88, 91], [2300, 80, 83, 86, 89, 92], [2400, 81, 84, 87, 90, 94], [2500, 80, 84, 88, 92, 96],
    [2600, 79, 83, 87, 91, 94], [2700, 80, 84, 88, 92, 93], [2800, 81, 85, 88, 91, 94], [2900, 79, 84, 88, 92, 95], [3000, 82, 86, 89, 92, 95],
    [3100, 83, 87, 90, 93, 96], [3200, 84, 88, 91, 94, 96], [3300, 85, 88, 91, 94, 95], [3400, 84, 87, 90, 93, 92], [3480, 83, 86, 88, 91],
];
const b33Est: Pt[] = [
    [14, 0.092], [68, 0.079], [136, 0.092], [205, 0.13], [273, 0.174], [364, 0.212], [455, 0.228], [545, 0.237], [636, 0.262], [705, 0.319],
    [773, 0.419], [841, 0.545], [909, 0.623], [977, 0.608], [1045, 0.558], [1091, 0.539], [1136, 0.564], [1205, 0.671], [1273, 0.772],
    [1341, 0.822], [1409, 0.79], [1477, 0.715], [1545, 0.646], [1614, 0.618], [1682, 0.627], [1750, 0.678], [1818, 0.76], [1909, 0.822],
    [2000, 0.848], [2091, 0.835], [2182, 0.841], [2273, 0.866], [2364, 0.885], [2500, 0.879], [2636, 0.879], [2773, 0.888], [2955, 0.892],
    [3136, 0.911], [3273, 0.923], [3364, 0.911], [3455, 0.879], [3523, 0.866],
];
const b33Pred: Pt[] = [[3523, 0.866], [3591, 0.911], [3682, 0.999], [3795, 1.074], [3909, 1.131], [4091, 1.181], [4318, 1.225], [4500, 1.263], [4659, 1.304], [4800, 1.33]];
const b33Up: Pt[] = [
    [14, 0.218], [91, 0.243], [227, 0.293], [364, 0.35], [500, 0.369], [591, 0.394], [705, 0.445], [795, 0.583], [886, 0.759], [977, 0.721],
    [1091, 0.646], [1182, 0.772], [1318, 0.961], [1432, 0.885], [1545, 0.778], [1659, 0.759], [1773, 0.797], [1909, 0.974], [2045, 0.992],
    [2136, 0.974], [2318, 1.018], [2500, 1.018], [2682, 1.011], [2864, 1.024], [3045, 1.03], [3227, 1.059], [3341, 1.049], [3455, 1.011],
    [3545, 1.043], [3636, 1.15], [3727, 1.301], [3800, 1.4],
];
const b33Lo: Pt[] = [
    [14, -0.044], [91, -0.059], [227, -0.009], [364, 0.067], [500, 0.086], [591, 0.105], [705, 0.174], [795, 0.293], [886, 0.445], [955, 0.489],
    [1045, 0.432], [1136, 0.419], [1227, 0.533], [1318, 0.634], [1432, 0.596], [1545, 0.533], [1659, 0.485], [1773, 0.52], [1909, 0.684],
    [2045, 0.696], [2136, 0.684], [2318, 0.734], [2500, 0.741], [2682, 0.734], [2864, 0.741], [3045, 0.753], [3227, 0.775], [3341, 0.778],
    [3455, 0.753], [3568, 0.715], [3682, 0.722], [3818, 0.772], [3955, 0.86], [4409, 0.948], [4864, 1.043], [5530, 1.228],
];

const POINTS = [b14Pts, b15Pts, b16Pts, b17Pts, b23Pts, b24Pts, b25Pts, b26Pts, b27Pts, b33Pts];
const ESTIMATES = [b14Est, b15Est, b16Est, b17Est, b23Est, b24Est, b25Est, b26Est, b27Est, b33Est];
const PREDICTIONS = [b14Pred, b15Pred, b16Pred, b17Pred, b23Pred, b24Pred, b25Pred, b26Pred, b27Pred, b33Pred];
const CI_UPPER = [b14Up, b15Up, b16Up, b17Up, b23Up, b24Up, b25Up, b26Up, b27Up, b33Up];
const CI_LOWER = [b14Lo, b15Lo, b16Lo, b17Lo, b23Lo, b24Lo, b25Lo, b26Lo, b27Lo, b33Lo];

const LEGEND_ITEMS = ['Data', 'Estimation', 'Prediction', '95% confidence interval', 'Failure Threshold'];

const COLORS = {
    data: '#0000ff',
    est: '#ff0000',
    pred: '#00e600',
    ci: '#555555',
    thr: '#959595',
    box: '#8f8f8f',
    tick: '#2e2e2e',
};

type Sel = d3.Selection<SVGSVGElement, unknown, null, undefined>;

// expand time bins into individual readings spread across each bin
const expandBins = (bins: number[][]): Pt[] => {
    const out: Pt[] = [];
    bins.forEach((bin, i) => {
        const [start, ...vals] = bin;
        const next = i + 1 < bins.length ? bins[i + 1][0] : start + (start - bins[Math.max(i - 1, 0)][0] || 100);
        const w = Math.min(next - start, 420);
        vals.forEach((v, j) => out.push([start + SPREAD[(j + 3 * i) % SPREAD.length] * w, v / 100]));
    });
    return out;
};

const addText = (
    g: d3.Selection<SVGGElement, unknown, null, undefined>,
    xPos: number, yPos: number, size: number, label: string, anchor = 'middle', fill = '#262626'
) => g.append('text')
    .attr('x', xPos).attr('y', yPos)
    .attr('text-anchor', anchor)
    .style('font-family', FONT)
    .style('font-size', `${size}px`)
    .attr('fill', fill)
    .text(label);

const drawPanel = (svg: Sel, idx: number) => {
    const left = COL_LEFT[idx % 3];
    const top = ROW_TOP[Math.floor(idx / 3)];

    const x = d3.scaleLinear().domain([0, X_MAX[idx]]).range([0, PW]);
    const y = d3.scaleLinear().domain(Y_DOMAIN).range([PH, 0]);

    const g = svg.append('g').attr('transform', `translate(${left},${top})`) as unknown as d3.Selection<SVGGElement, unknown, null, undefined>;
    const clipId = `clip-${idx}`;
    g.append('clipPath').attr('id', clipId).append('rect').attr('width', PW).attr('height', PH);

    g.append('rect').attr('width', PW).attr('height', PH).attr('fill', '#fff');

    const plot = g.append('g').attr('clip-path', `url(#${clipId})`);

    plot.append('line')
        .attr('x1', 0).attr('x2', PW)
        .attr('y1', y(THRESHOLDS[idx])).attr('y2', y(THRESHOLDS[idx]))
        .attr('stroke', COLORS.thr).attr('stroke-width', 7);

    plot.append('g')
        .selectAll('circle')
        .data(expandBins(POINTS[idx]))
        .enter().append('circle')
        .attr('cx', d => x(d[0]))
        .attr('cy', d => y(d[1]))
        .attr('r', 4)
        .attr('fill', COLORS.data);

    const smooth = idx === 6 ? d3.curveLinear : d3.curveMonotoneX;
    const line = d3.line<Pt>().x(d => x(d[0])).y(d => y(d[1])).curve(smooth);

    plot.append('path').attr('d', line(ESTIMATES[idx])).attr('fill', 'none')
        .attr('stroke', COLORS.est).attr('stroke-width', 4.5).attr('stroke-linejoin', 'round');
    plot.append('path').attr('d', line(PREDICTIONS[idx])).attr('fill', 'none')
        .attr('stroke', COLORS.pred).attr('stroke-width', 4.5).attr('stroke-linejoin', 'round');

    [CI_UPPER[idx], CI_LOWER[idx]].forEach(ci => {
        plot.append('path').attr('d', line(ci)).attr('fill', 'none')
            .attr('stroke', COLORS.ci).attr('stroke-width', 2.4)
            .attr('stroke-dasharray', '22 12');
    });

    // box and inward ticks on all sides
    g.append('rect').attr('width', PW).attr('height', PH).attr('fill', 'none')
        .attr('stroke', COLORS.box).attr('stroke-width', 3);

    const tl = 11;
    X_TICKS[idx].forEach(t => {
        g.append('line').attr('x1', x(t)).attr('x2', x(t)).attr('y1', PH).attr('y2', PH - tl).attr('stroke', COLORS.box).attr('stroke-width', 2.5);
        g.append('line').attr('x1', x(t)).attr('x2', x(t)).attr('y1', 0).attr('y2', tl).attr('stroke', COLORS.box).attr('stroke-width', 2.5);
        addText(g, x(t), PH + 62, 48, String(t), 'middle', COLORS.tick);
    });
    addText(g, -25, PH + 62, 48, '0', 'middle', COLORS.tick);

    Y_TICKS.forEach(t => {
        g.append('line').attr('x1', 0).attr('x2', tl).attr('y1', y(t)).attr('y2', y(t)).attr('stroke', COLORS.box).attr('stroke-width', 2.5);
        g.append('line').attr('x1', PW).attr('x2', PW - tl).attr('y1', y(t)).attr('y2', y(t)).attr('stroke', COLORS.box).attr('stroke-width', 2.5);
        addText(g, -14, y(t) + 16, 48, d3.format('~g')(t), 'end', COLORS.tick);
    });

    addText(g, PW / 2, -19, 54, TITLES[idx], 'middle', '#111');
    addText(g, PW / 2, PH + 126, 54, 'Time step (s)');
    addText(g, 0, 0, 54, 'CWTCNN-HI')
        .attr('transform', `translate(${-112},${PH / 2}) rotate(-90)`)
        .attr('dominant-baseline', 'central');
};

const drawLegend = (svg: Sel) => {
    const lg = svg.append('g').attr('transform', 'translate(1331,3107)') as unknown as d3.Selection<SVGGElement, unknown, null, undefined>;
    lg.append('rect').attr('width', 794).attr('height', 390).attr('fill', '#fff')
        .attr('stroke', COLORS.box).attr('stroke-width', 3);
    const rowY = (i: number) => 43 + i * 75.5;
    LEGEND_ITEMS.forEach((label, i) => {
        const cy = rowY(i);
        if (i === 0) {
            lg.append('circle').attr('cx', 71).attr('cy', cy).attr('r', 3.5).attr('fill', COLORS.data);
        } else {
            const stroke = [COLORS.est, COLORS.pred, COLORS.ci, COLORS.thr][i - 1];
            const width = [4.5, 4.5, 2.4, 9][i - 1];
            const l = lg.append('line').attr('x1', 13).attr('x2', 130).attr('y1', cy).attr('y2', cy)
                .attr('stroke', stroke).attr('stroke-width', width);
            if (i === 3) l.attr('stroke-dasharray', '22 12');
        }
        addText(lg, 141, cy + 22, 64, label, 'start', '#000');
    });
};

const App: React.FC = () => {
    const svgRef = useRef<SVGSVGElement | null>(null);

    useEffect(() => {
        const svg = d3.select(svgRef.current) as unknown as Sel;
        svg.selectAll('*').remove();
        TITLES.forEach((_, i) => drawPanel(svg, i));
        drawLegend(svg);
    }, []);

    return (
        <svg
            ref={svgRef}
            width={W}
            height={H}
            viewBox={`0 0 ${W} ${H}`}
            style={{ position: 'absolute', left: 0, top: 0, background: '#fff', fontFamily: FONT }}
        />
    );
};

export default App;
